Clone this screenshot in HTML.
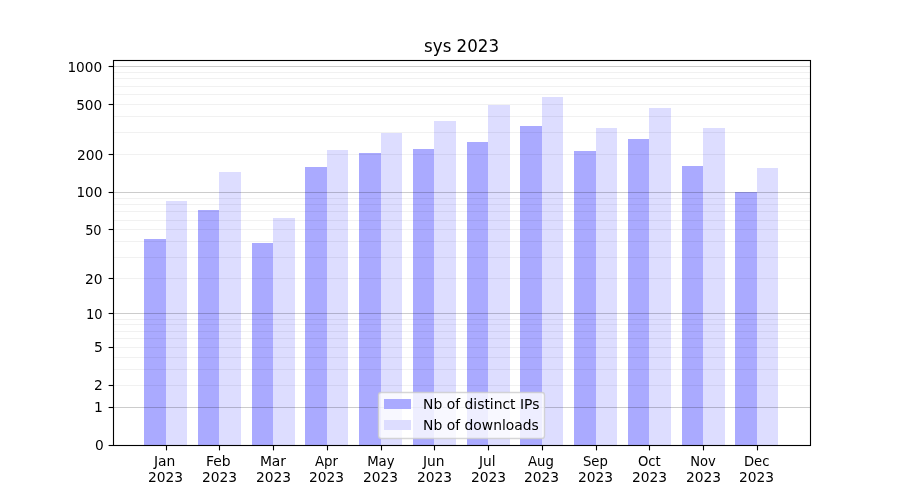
<!DOCTYPE html>
<html lang="en"><head><meta charset="utf-8"><title>sys 2023</title>
<style>html,body{margin:0;padding:0;background:#fff;}body{width:900px;height:500px;overflow:hidden;}svg{display:block;}text{font-family:"DejaVu Sans","Liberation Sans",sans-serif;fill:#000;}.t{font-size:13.889px;}.tt{font-size:16.667px;}.sp{stroke:#000;stroke-width:1.111;fill:none;}.gM{stroke:#000;stroke-opacity:0.200;stroke-width:1.111;}.gm{stroke:#000;stroke-opacity:0.055;stroke-width:1.111;}</style></head><body>
<svg width="900" height="500" viewBox="0 0 900 500">
<rect width="900" height="500" fill="#fff"/>
<g shape-rendering="crispEdges">
<rect x="144" y="239" width="22" height="206" fill="#aaaaff"/>
<rect x="166" y="201" width="21" height="244" fill="#ddddff"/>
<rect x="198" y="210" width="21" height="235" fill="#aaaaff"/>
<rect x="219" y="172" width="22" height="273" fill="#ddddff"/>
<rect x="252" y="243" width="21" height="202" fill="#aaaaff"/>
<rect x="273" y="218" width="22" height="227" fill="#ddddff"/>
<rect x="305" y="167" width="22" height="278" fill="#aaaaff"/>
<rect x="327" y="150" width="21" height="295" fill="#ddddff"/>
<rect x="359" y="153" width="22" height="292" fill="#aaaaff"/>
<rect x="381" y="133" width="21" height="312" fill="#ddddff"/>
<rect x="413" y="149" width="21" height="296" fill="#aaaaff"/>
<rect x="434" y="121" width="22" height="324" fill="#ddddff"/>
<rect x="467" y="142" width="21" height="303" fill="#aaaaff"/>
<rect x="488" y="105" width="22" height="340" fill="#ddddff"/>
<rect x="520" y="126" width="22" height="319" fill="#aaaaff"/>
<rect x="542" y="97" width="21" height="348" fill="#ddddff"/>
<rect x="574" y="151" width="22" height="294" fill="#aaaaff"/>
<rect x="596" y="128" width="21" height="317" fill="#ddddff"/>
<rect x="628" y="139" width="21" height="306" fill="#aaaaff"/>
<rect x="649" y="108" width="22" height="337" fill="#ddddff"/>
<rect x="682" y="166" width="21" height="279" fill="#aaaaff"/>
<rect x="703" y="128" width="22" height="317" fill="#ddddff"/>
<rect x="735" y="192" width="22" height="253" fill="#aaaaff"/>
<rect x="757" y="168" width="21" height="277" fill="#ddddff"/>
</g>
<g>
<line class="gM" x1="113.5" x2="810.5" y1="407.5" y2="407.5"/>
<line class="gm" x1="113.5" x2="810.5" y1="385.5" y2="385.5"/>
<line class="gm" x1="113.5" x2="810.5" y1="369.5" y2="369.5"/>
<line class="gm" x1="113.5" x2="810.5" y1="357.5" y2="357.5"/>
<line class="gm" x1="113.5" x2="810.5" y1="347.5" y2="347.5"/>
<line class="gm" x1="113.5" x2="810.5" y1="338.5" y2="338.5"/>
<line class="gm" x1="113.5" x2="810.5" y1="331.5" y2="331.5"/>
<line class="gm" x1="113.5" x2="810.5" y1="324.5" y2="324.5"/>
<line class="gm" x1="113.5" x2="810.5" y1="319.5" y2="319.5"/>
<line class="gM" x1="113.5" x2="810.5" y1="313.5" y2="313.5"/>
<line class="gm" x1="113.5" x2="810.5" y1="278.5" y2="278.5"/>
<line class="gm" x1="113.5" x2="810.5" y1="257.5" y2="257.5"/>
<line class="gm" x1="113.5" x2="810.5" y1="241.5" y2="241.5"/>
<line class="gm" x1="113.5" x2="810.5" y1="229.5" y2="229.5"/>
<line class="gm" x1="113.5" x2="810.5" y1="220.5" y2="220.5"/>
<line class="gm" x1="113.5" x2="810.5" y1="211.5" y2="211.5"/>
<line class="gm" x1="113.5" x2="810.5" y1="204.5" y2="204.5"/>
<line class="gm" x1="113.5" x2="810.5" y1="198.5" y2="198.5"/>
<line class="gM" x1="113.5" x2="810.5" y1="192.5" y2="192.5"/>
<line class="gm" x1="113.5" x2="810.5" y1="154.5" y2="154.5"/>
<line class="gm" x1="113.5" x2="810.5" y1="132.5" y2="132.5"/>
<line class="gm" x1="113.5" x2="810.5" y1="116.5" y2="116.5"/>
<line class="gm" x1="113.5" x2="810.5" y1="104.5" y2="104.5"/>
<line class="gm" x1="113.5" x2="810.5" y1="94.5" y2="94.5"/>
<line class="gm" x1="113.5" x2="810.5" y1="86.5" y2="86.5"/>
<line class="gm" x1="113.5" x2="810.5" y1="78.5" y2="78.5"/>
<line class="gm" x1="113.5" x2="810.5" y1="72.5" y2="72.5"/>
<line class="gM" x1="113.5" x2="810.5" y1="66.5" y2="66.5"/>
</g>
<g class="sp">
<line x1="108.6" x2="113.5" y1="445.5" y2="445.5"/>
<line x1="108.6" x2="113.5" y1="407.5" y2="407.5"/>
<line x1="108.6" x2="113.5" y1="385.5" y2="385.5"/>
<line x1="108.6" x2="113.5" y1="347.5" y2="347.5"/>
<line x1="108.6" x2="113.5" y1="313.5" y2="313.5"/>
<line x1="108.6" x2="113.5" y1="278.5" y2="278.5"/>
<line x1="108.6" x2="113.5" y1="229.5" y2="229.5"/>
<line x1="108.6" x2="113.5" y1="192.5" y2="192.5"/>
<line x1="108.6" x2="113.5" y1="154.5" y2="154.5"/>
<line x1="108.6" x2="113.5" y1="104.5" y2="104.5"/>
<line x1="108.6" x2="113.5" y1="66.5" y2="66.5"/>
<line x1="166.5" x2="166.5" y1="445.5" y2="450.4"/>
<line x1="219.5" x2="219.5" y1="445.5" y2="450.4"/>
<line x1="273.5" x2="273.5" y1="445.5" y2="450.4"/>
<line x1="327.5" x2="327.5" y1="445.5" y2="450.4"/>
<line x1="381.5" x2="381.5" y1="445.5" y2="450.4"/>
<line x1="434.5" x2="434.5" y1="445.5" y2="450.4"/>
<line x1="488.5" x2="488.5" y1="445.5" y2="450.4"/>
<line x1="542.5" x2="542.5" y1="445.5" y2="450.4"/>
<line x1="596.5" x2="596.5" y1="445.5" y2="450.4"/>
<line x1="649.5" x2="649.5" y1="445.5" y2="450.4"/>
<line x1="703.5" x2="703.5" y1="445.5" y2="450.4"/>
<line x1="757.5" x2="757.5" y1="445.5" y2="450.4"/>
<rect x="113.5" y="60.5" width="697" height="385"/>
</g>
<g>
<text class="t" text-anchor="end" transform="translate(103.65,450.00) scale(0.9900,1.0105)">0</text>
<text class="t" text-anchor="end" transform="translate(102.75,412.00) scale(1.0000,1.0105)">1</text>
<text class="t" text-anchor="end" transform="translate(102.70,390.00) scale(0.9950,1.0105)">2</text>
<text class="t" text-anchor="end" transform="translate(102.75,352.00) scale(1.0000,1.0105)">5</text>
<text class="t" text-anchor="end" transform="translate(102.60,319.00) scale(0.9450,1.0105)">10</text>
<text class="t" text-anchor="end" transform="translate(102.45,284.00) scale(0.9950,1.0105)">20</text>
<text class="t" text-anchor="end" transform="translate(101.55,235.00) scale(0.9300,1.0105)">50</text>
<text class="t" text-anchor="end" transform="translate(102.25,197.00) scale(0.9750,1.0105)">100</text>
<text class="t" text-anchor="end" transform="translate(103.25,160.00) scale(0.9950,1.0105)">200</text>
<text class="t" text-anchor="end" transform="translate(102.25,110.00) scale(0.9850,1.0105)">500</text>
<text class="t" text-anchor="end" transform="translate(102.20,72.00) scale(0.9850,1.0105)">1000</text>
</g><g>
<text class="t" text-anchor="middle" transform="translate(164.60,466.00) scale(1.0000,1.0105)">Jan</text>
<text class="t" text-anchor="middle" transform="translate(165.45,482.00) scale(0.9950,1.0105)">2023</text>
<text class="t" text-anchor="middle" transform="translate(218.24,466.00) scale(1.0050,1.0105)">Feb</text>
<text class="t" text-anchor="middle" transform="translate(219.44,482.00) scale(0.9950,1.0105)">2023</text>
<text class="t" text-anchor="middle" transform="translate(272.97,466.00) scale(1.0000,1.0105)">Mar</text>
<text class="t" text-anchor="middle" transform="translate(273.47,482.00) scale(0.9950,1.0105)">2023</text>
<text class="t" text-anchor="middle" transform="translate(326.41,466.00) scale(0.9600,1.0105)">Apr</text>
<text class="t" text-anchor="middle" transform="translate(326.46,482.00) scale(0.9950,1.0105)">2023</text>
<text class="t" text-anchor="middle" transform="translate(380.85,466.00) scale(0.9550,1.0105)">May</text>
<text class="t" text-anchor="middle" transform="translate(380.45,482.00) scale(0.9950,1.0105)">2023</text>
<text class="t" text-anchor="middle" transform="translate(433.68,466.00) scale(0.9950,1.0105)">Jun</text>
<text class="t" text-anchor="middle" transform="translate(434.43,482.00) scale(0.9950,1.0105)">2023</text>
<text class="t" text-anchor="middle" transform="translate(487.17,466.00) scale(0.9900,1.0105)">Jul</text>
<text class="t" text-anchor="middle" transform="translate(488.47,482.00) scale(0.9950,1.0105)">2023</text>
<text class="t" text-anchor="middle" transform="translate(540.85,466.00) scale(0.9550,1.0105)">Aug</text>
<text class="t" text-anchor="middle" transform="translate(541.45,482.00) scale(0.9950,1.0105)">2023</text>
<text class="t" text-anchor="middle" transform="translate(595.34,466.00) scale(0.9500,1.0105)">Sep</text>
<text class="t" text-anchor="middle" transform="translate(595.44,482.00) scale(0.9950,1.0105)">2023</text>
<text class="t" text-anchor="middle" transform="translate(649.28,466.00) scale(0.9500,1.0105)">Oct</text>
<text class="t" text-anchor="middle" transform="translate(649.43,482.00) scale(0.9950,1.0105)">2023</text>
<text class="t" text-anchor="middle" transform="translate(702.96,466.00) scale(0.9450,1.0105)">Nov</text>
<text class="t" text-anchor="middle" transform="translate(703.46,482.00) scale(0.9950,1.0105)">2023</text>
<text class="t" text-anchor="middle" transform="translate(756.65,466.00) scale(0.9500,1.0105)">Dec</text>
<text class="t" text-anchor="middle" transform="translate(756.45,482.00) scale(0.9950,1.0105)">2023</text>
</g>
<text class="tt" text-anchor="middle" transform="translate(461.55,52.00) scale(1.0000,1.0605)">sys 2023</text>
<rect x="378.5" y="392.5" width="166" height="46" rx="2.8" ry="2.8" fill="#fff" fill-opacity="0.8" stroke="#ccc" stroke-opacity="0.8" stroke-width="1.389"/>
<g shape-rendering="crispEdges"><rect x="384" y="399" width="27" height="10" fill="#aaaaff"/><rect x="384" y="420" width="27" height="10" fill="#ddddff"/></g>
<text class="t" text-anchor="start" transform="translate(423.10,409.00) scale(1.0000,1.0105)">Nb of distinct IPs</text>
<text class="t" text-anchor="start" transform="translate(423.10,430.00) scale(1.0000,1.0105)">Nb of downloads</text>
</svg></body></html>
